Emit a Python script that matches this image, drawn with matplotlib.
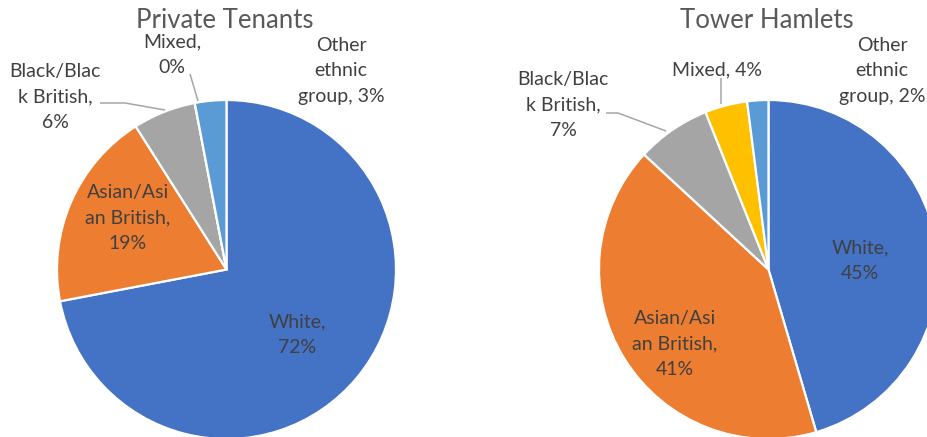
import matplotlib
matplotlib.use("Agg")
import matplotlib.pyplot as plt

# ---- data ----
categories = ["White", "Asian/Asian British", "Black/Black British", "Mixed", "Other ethnic group"]
titles = ["Private Tenants", "Tower Hamlets"]
private_tenants = [72, 19, 6, 0, 3]
tower_hamlets = [45, 41, 7, 4, 2]
colors = ["#4472C4", "#ED7D31", "#A5A5A5", "#FFC000", "#5B9BD5"]

pt_labels = ["White,\n72%", "Asian/Asi\nan British,\n19%", "Black/Blac\nk British,\n6%",
             "Mixed,\n0%", "Other\nethnic\ngroup, 3%"]
th_labels = ["White,\n45%", "Asian/Asi\nan British,\n41%", "Black/Blac\nk British,\n7%",
             "Mixed, 4%", "Other\nethnic\ngroup, 2%"]

W, H = 928, 437
plt.rcParams['font.family'] = ['Lato', 'DejaVu Sans']
fig = plt.figure(figsize=(W / 100, H / 100), dpi=100)
ax = fig.add_axes([0, 0, 1, 1])

def Y(py):
    return H - py

text_col = "#404040"
title_col = "#595959"
lead_col = "#A6A6A6"
fs = 14

charts = [
    dict(vals=private_tenants, center=(226.5, Y(269.5)), r=169.5, title=titles[0], tx=225,
         labels=pt_labels,
         lpos=[(297, 335), (128, 218), (55, 97), (172, 55), (341, 71)],
         leaders=[[(100, 103), (125, 103), (165, 110)], [(190, 74), (198, 101)]]),
    dict(vals=tower_hamlets, center=(768.5, Y(269.5)), r=169.5, title=titles[1], tx=767,
         labels=th_labels,
         lpos=[(860, 261), (675, 344), (563, 105), (717, 70), (882, 71)],
         leaders=[[(606, 113), (618, 113), (666, 131)], [(721, 78), (721, 104)]]),
]

for c in charts:
    ax.pie(c["vals"], colors=colors, startangle=90, counterclock=False,
           center=c["center"], radius=c["r"], frame=True,
           wedgeprops=dict(edgecolor="white", linewidth=1.6))
    ax.text(c["tx"], Y(21), c["title"], ha="center", va="center", fontsize=18.5, color=title_col)
    for lab, (lx, ly) in zip(c["labels"], c["lpos"]):
        ax.text(lx, Y(ly), lab, ha="center", va="center", fontsize=fs, color=text_col,
                linespacing=1.62)
    for pts in c["leaders"]:
        ax.plot([p[0] for p in pts], [Y(p[1]) for p in pts], color=lead_col, lw=1.1,
                solid_capstyle="butt")

ax.set_xlim(0, W)
ax.set_ylim(0, H)
ax.set_aspect("equal")
ax.axis("off")
fig.savefig("out.png", dpi=100)
